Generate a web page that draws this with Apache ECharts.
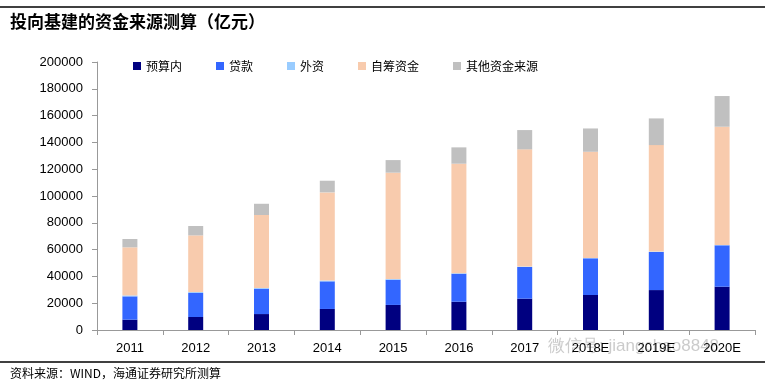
<!DOCTYPE html>
<html>
<head>
<meta charset="utf-8">
<script src="https://cdn.jsdelivr.net/npm/echarts@6/dist/echarts.min.js"></script>
<style>
html,body{margin:0;padding:0;background:#fff;}
#c{width:769px;height:389px;}
</style>
</head>
<body>
<div id="c"></div>
<script>
const categories = ['2011','2012','2013','2014','2015','2016','2017','2018E','2019E','2020E'];
const budget   = [7700, 9700, 11900, 15700, 18700, 21100, 23400, 26100, 29800, 32300];
const loans    = [17400, 17900, 18900, 20600, 18800, 20900, 23600, 27400, 28400, 30900];
const foreign  = [700, 700, 600, 600, 500, 400, 300, 300, 300, 300];
const selfRaised = [35900, 42300, 54400, 65800, 79400, 81700, 87500, 79200, 79500, 88200];
const others   = [6200, 7000, 8400, 8700, 9400, 12200, 14400, 17400, 19900, 22900];
const seriesNames = ['预算内','贷款','外资','自筹资金','其他资金来源'];
const seriesColors = ['#000080','#3366FF','#99CCFF','#F8CBAD','#C0C0C0'];

const chart = echarts.init(document.getElementById('c'));
const dataSets = [budget, loans, foreign, selfRaised, others];
const font = '"Liberation Sans", Arial, sans-serif';
const cjk = '"Noto Sans CJK SC", sans-serif';

chart.setOption({
  animation: false,
  backgroundColor: '#fff',
  legend: {
    top: 55,
    left: 128,
    itemWidth: 8,
    itemHeight: 8,
    itemGap: 34,
    icon: 'rect',
    textStyle: {fontSize: 12, color: '#000', fontFamily: cjk},
    data: seriesNames
  },
  grid: {left: 97, right: 14, top: 62, bottom: 59},
  xAxis: {
    type: 'category',
    data: categories,
    axisLine: {lineStyle: {color: '#999', width: 1}},
    axisTick: {show: true, length: 5, lineStyle: {color: '#999'}},
    axisLabel: {color: '#000', fontSize: 13, fontFamily: font, margin: 12}
  },
  yAxis: {
    type: 'value',
    min: 0, max: 200000, interval: 20000,
    axisLine: {show: true, lineStyle: {color: '#999', width: 1}},
    axisTick: {show: true, length: 5, lineStyle: {color: '#999'}},
    splitLine: {show: false},
    axisLabel: {color: '#000', fontSize: 13, fontFamily: font, margin: 14, formatter: v => String(v)}
  },
  series: seriesNames.map((n, i) => ({
    name: n,
    type: 'bar',
    stack: 'total',
    barWidth: 15,
    data: dataSets[i],
    itemStyle: {color: seriesColors[i]}
  })),
  graphic: [
    {type: 'line', shape: {x1: 0, y1: 7, x2: 765, y2: 7}, style: {stroke: '#000', lineWidth: 1.5}},
    {type: 'text', left: 10, top: 13, style: {text: '投向基建的资金来源测算（亿元）', fontSize: 17, fontWeight: 'bold', fill: '#000', fontFamily: cjk}},
    {type: 'line', shape: {x1: 0, y1: 362, x2: 765, y2: 362}, style: {stroke: '#000', lineWidth: 1.5}},
    {type: 'text', left: 10, top: 367, style: {text: '资料来源：WIND，海通证券研究所测算', fontSize: 12, fill: '#000', fontFamily: cjk}},
    {type: 'text', x: 548, y: 338, style: {text: '微信号: jiangchao8848', fontSize: 17, fill: 'rgba(160,160,160,0.55)', fontFamily: font}}
  ]
});
</script>
</body>
</html>
